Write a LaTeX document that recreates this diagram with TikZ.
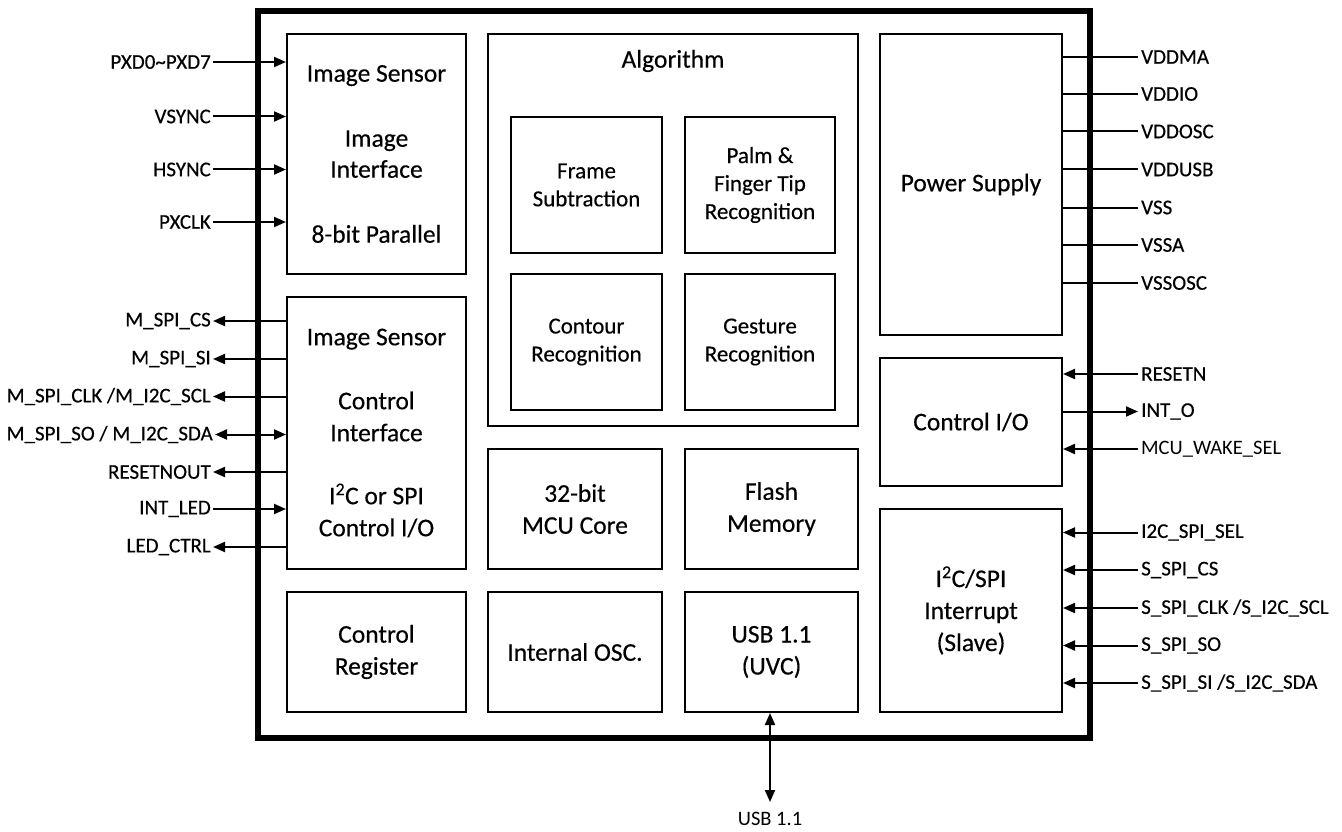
\documentclass[tikz,border=0pt]{standalone}
\usepackage{fontspec}
\setmainfont{Carlito}[FakeBold=0.4]
\newfontfamily\lightfont{Carlito}
\usetikzlibrary{arrows.meta}
\begin{document}
\begin{tikzpicture}[x=1pt,y=-1pt,
  blk/.style={draw,line width=2pt,inner sep=0pt,align=center,font=\fontsize{25.5}{31}\selectfont},
  sub/.style={blk,font=\fontsize{23}{28}\selectfont},
  ttl/.style={inner sep=0pt,font=\fontsize{25.5}{31}\selectfont},
  pinL/.style={anchor=east,inner sep=2pt,font=\fontsize{21}{24}\selectfont},
  pinR/.style={anchor=west,inner sep=3pt,font=\fontsize{21}{24}\selectfont},
  sig/.style={line width=2pt},
  tip/.tip={Triangle[length=12pt,width=10pt]}]
\useasboundingbox (0,0) rectangle (1342,832);
% chip outline
\node[draw,line width=6pt,minimum width=832pt,minimum height=727pt] (chip) at (674,374.5) {};
% left column
\node[blk,minimum width=179pt,minimum height=240pt] (isen) at (376.5,154)
  {Image Sensor\\[34pt]Image\\Interface\\[34pt]8-bit Parallel};
\node[blk,minimum width=179pt,minimum height=272pt,font=\fontsize{25.5}{32}\selectfont] (ictl) at (376.5,433)
  {Image Sensor\\[32pt]Control\\Interface\\[31pt]I\textsuperscript{2}C or SPI\\Control I/O};
\node[blk,minimum width=179pt,minimum height=120pt,font=\fontsize{25.5}{32}\selectfont] (creg) at (376.5,652) {Control\\Register};
% algorithm
\node[blk,minimum width=370pt,minimum height=392pt] (alg) at (673,230) {};
\node[ttl] (algt) at (673,61) {Algorithm};
\node[sub,minimum width=151pt,minimum height=136pt] (frm) at (586.5,185) {Frame\\Subtraction};
\node[sub,minimum width=150pt,minimum height=136pt] (palm) at (760,185) {Palm \&\\Finger Tip\\Recognition};
\node[sub,minimum width=151pt,minimum height=136pt] (cont) at (586.5,342) {Contour\\Recognition};
\node[sub,minimum width=150pt,minimum height=136pt] (gest) at (760,342) {Gesture\\Recognition};
% middle blocks
\node[blk,minimum width=174pt,minimum height=120pt,font=\fontsize{25.5}{32}\selectfont] (mcu) at (575,509) {32-bit\\MCU Core};
\node[blk,minimum width=173pt,minimum height=120pt,font=\fontsize{25.5}{32}\selectfont] (flash) at (771.5,509) {Flash\\Memory};
\node[blk,minimum width=174pt,minimum height=120pt] (osc) at (575,652) {Internal OSC.};
\node[blk,minimum width=173pt,minimum height=120pt,font=\fontsize{25.5}{32}\selectfont] (usb) at (771.5,652) {USB 1.1\\(UVC)};
% right column
\node[blk,minimum width=182pt,minimum height=301pt] (pwr) at (971,184.5) {Power Supply};
\node[blk,minimum width=182pt,minimum height=128pt] (cio) at (971,422) {Control I/O};
\node[blk,minimum width=182pt,minimum height=203pt,font=\fontsize{25.5}{32}\selectfont] (i2c) at (971,610.5)
  {I\textsuperscript{2}C/SPI\\Interrupt\\(Slave)};
% left pins: image interface
\node[pinL] (pxd) at (213,62) {PXD0\textasciitilde PXD7};
\node[pinL] (vsync) at (213,116.5) {VSYNC};
\node[pinL] (hsync) at (213,169.5) {HSYNC};
\node[pinL] (pxclk) at (213,222) {PXCLK};
\draw[sig,-tip] (pxd.east) -- (pxd.east -| isen.west);
\draw[sig,-tip] (vsync.east) -- (vsync.east -| isen.west);
\draw[sig,-tip] (hsync.east) -- (hsync.east -| isen.west);
\draw[sig,-tip] (pxclk.east) -- (pxclk.east -| isen.west);
% left pins: control interface
\node[pinL] (mcs) at (213,321) {M\_SPI\_CS};
\node[pinL] (msi) at (213,359) {M\_SPI\_SI};
\node[pinL] (mclk) at (213,396.5) {M\_SPI\_CLK /M\_I2C\_SCL};
\node[pinL] (mso) at (215,434.5) {M\_SPI\_SO / M\_I2C\_SDA};
\node[pinL] (rstout) at (213,472) {RESETNOUT};
\node[pinL] (intled) at (213,509) {INT\_LED};
\node[pinL] (ledctrl) at (213,547) {LED\_CTRL};
\draw[sig,tip-] (mcs.east) -- (mcs.east -| ictl.west);
\draw[sig,tip-] (msi.east) -- (msi.east -| ictl.west);
\draw[sig,tip-] (mclk.east) -- (mclk.east -| ictl.west);
\draw[sig,tip-tip] (mso.east) -- (mso.east -| ictl.west);
\draw[sig,tip-] (rstout.east) -- (rstout.east -| ictl.west);
\draw[sig,-tip] (intled.east) -- (intled.east -| ictl.west);
\draw[sig,tip-] (ledctrl.east) -- (ledctrl.east -| ictl.west);
% right pins: power
\node[pinR] (vddma) at (1138,57) {VDDMA};
\node[pinR] (vddio) at (1138,94) {VDDIO};
\node[pinR] (vddosc) at (1138,131.5) {VDDOSC};
\node[pinR] (vddusb) at (1138,169.5) {VDDUSB};
\node[pinR] (vss) at (1138,207.5) {VSS};
\node[pinR] (vssa) at (1138,245) {VSSA};
\node[pinR] (vssosc) at (1138,283) {VSSOSC};
\foreach \p in {vddma,vddio,vddosc,vddusb,vss,vssa,vssosc}
  \draw[sig] (\p.west -| pwr.east) -- (\p.west);
% right pins: control I/O
\node[pinR] (rstn) at (1138,374) {RESETN};
\node[pinR] (into) at (1138,411.5) {INT\_O};
\node[pinR,font=\lightfont\fontsize{20.5}{24}\selectfont] (wake) at (1138,449) {MCU\_WAKE\_SEL};
\draw[sig,tip-] (rstn.west -| cio.east) -- (rstn.west);
\draw[sig,-tip] (into.west -| cio.east) -- (into.west);
\draw[sig,tip-] (wake.west -| cio.east) -- (wake.west);
% right pins: slave interface
\node[pinR] (sel) at (1138,532.5) {I2C\_SPI\_SEL};
\node[pinR] (scs) at (1138,570) {S\_SPI\_CS};
\node[pinR] (sclk) at (1138,608) {S\_SPI\_CLK /S\_I2C\_SCL};
\node[pinR] (sso) at (1138,645.5) {S\_SPI\_SO};
\node[pinR] (ssi) at (1138,683) {S\_SPI\_SI /S\_I2C\_SDA};
\foreach \p in {sel,scs,sclk,sso,ssi}
  \draw[sig,tip-] (\p.west -| i2c.east) -- (\p.west);
% USB
\coordinate (usbend) at (770,802);
\node[inner sep=0pt,anchor=north,font=\lightfont\fontsize{20.5}{22}\selectfont] (usbpin) at (770,812) {USB 1.1};
\draw[sig,tip-tip] (usbend |- usb.south) -- (usbend);
\end{tikzpicture}
\end{document}
